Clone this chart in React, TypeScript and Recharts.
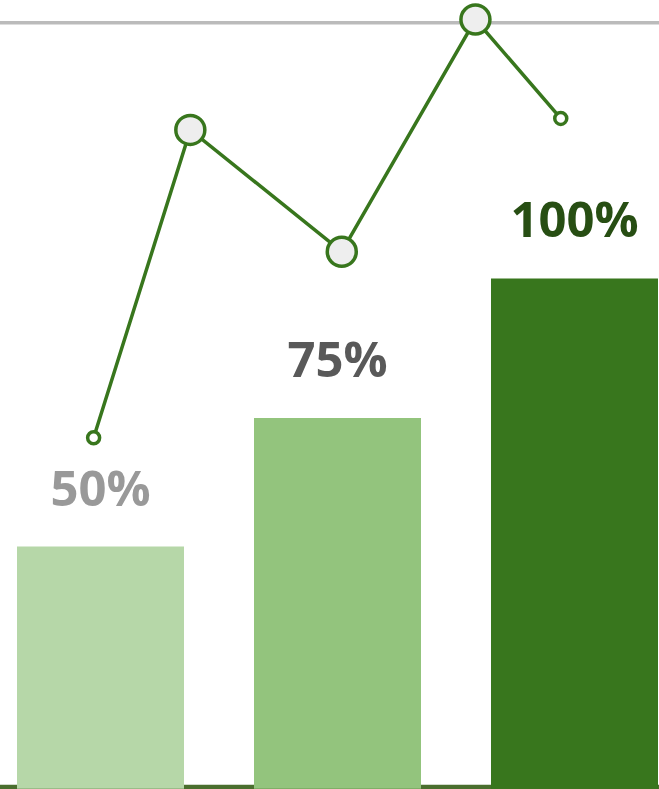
import { ComposedChart, Bar, Line, XAxis, YAxis, CartesianGrid, Cell, LabelList } from 'recharts';

const categories = ['A', 'B', 'C'];
const barValues = [31.6, 48.4, 66.6];
const barLabels = ['50%', '75%', '100%'];
const gridTicks = [0, 100];

const lineX = [15.7, 29.3, 50.6, 69.4, 81.4];
const lineY = [45.8, 86.0, 70.1, 100.4, 87.5];

const barColors = ['#b6d7a8', '#93c47d', '#38761d'];
const labelColors = ['#999999', '#595959', '#274e13'];

const barData = categories.map((c, i) => ({ name: c, value: barValues[i], label: barLabels[i] }));
const lineData = lineX.map((x, i) => ({ x, y: lineY[i] }));

const renderDot = (props: any) => {
  const { cx, cy, index } = props;
  const end = index === 0 || index === lineData.length - 1;
  return (
    <circle
      key={`dot-${index}`}
      cx={cx}
      cy={cy}
      r={end ? 6 : 14.5}
      fill={end ? '#ffffff' : '#eeeeee'}
      stroke="#38761d"
      strokeWidth={3.5}
    />
  );
};

// the lower grid line is the baseline: dark green and thick; the upper one light gray
const renderGridLine = (props: any) => {
  const { x1, x2, y1, y2, index } = props;
  const base = y1 > 400;
  return (
    <line
      key={`grid-${index}-${y1}`}
      x1={x1}
      x2={x2}
      y1={y1}
      y2={y2}
      stroke={base ? '#4a6e2e' : '#bbbbbb'}
      strokeWidth={base ? 8 : 3.5}
    />
  );
};

const renderLabel = (props: any) => {
  const { x, y, width, index, value } = props;
  return (
    <text
      x={x + width / 2}
      y={y - 41}
      textAnchor="middle"
      fill={labelColors[index]}
      fontFamily="'Open Sans', sans-serif"
      fontWeight={700}
      fontSize={49}
    >
      {value}
    </text>
  );
};

export default function App() {
  return (
    <div style={{ position: 'absolute', left: 0, top: 0, width: 659, height: 789, overflow: 'hidden', background: '#fff' }}>
      <div style={{ position: 'absolute', left: -18.5, top: -7.66 }}>
        <ComposedChart width={711} height={796.66} data={barData} margin={{ top: 0, right: 0, bottom: 0, left: 0 }}>
          <CartesianGrid vertical={false} horizontal={renderGridLine} />
          <XAxis xAxisId="cat" dataKey="name" height={0} hide />
          <XAxis xAxisId="num" type="number" dataKey="x" domain={[0, 100]} hide />
          <YAxis domain={[0, 104]} ticks={gridTicks} width={0} hide />
          <Bar xAxisId="cat" dataKey="value" barSize={167} isAnimationActive={false}>
            {barData.map((d, i) => (
              <Cell key={d.name} fill={barColors[i]} />
            ))}
            <LabelList dataKey="label" content={renderLabel} />
          </Bar>
          <Line
            xAxisId="num"
            data={lineData}
            dataKey="y"
            type="linear"
            stroke="#38761d"
            strokeWidth={3.5}
            dot={renderDot}
            activeDot={false}
            isAnimationActive={false}
          />
        </ComposedChart>
      </div>
    </div>
  );
}
